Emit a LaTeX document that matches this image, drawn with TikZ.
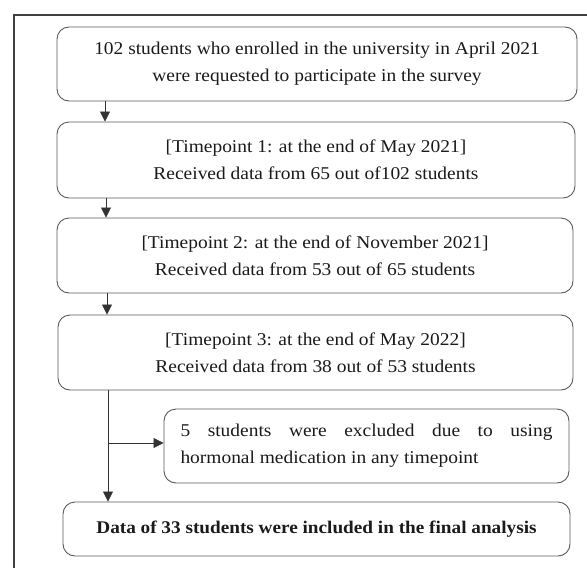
\documentclass[tikz,border=0pt]{standalone}
\usepackage{fontspec}
\setmainfont[FakeStretch=1.08]{Liberation Serif}
\usetikzlibrary{arrows.meta}
\definecolor{boxline}{HTML}{5A5A5A}
\definecolor{txt}{HTML}{1A1A1A}
\begin{document}
\begin{tikzpicture}[x=1pt,y=-1pt,
  flowbox/.style={draw=boxline,line width=0.9pt,rounded corners=12pt,
    text=txt,align=center,inner sep=0pt,
    font=\fontsize{18}{27}\selectfont},
  arr/.style={line width=0.8pt,draw=black!80,-{Triangle[length=10pt,width=10pt]}},
  plain/.style={line width=0.8pt,draw=black!80}]
\useasboundingbox (0,0) rectangle (587,568);
\draw[line width=1.5pt,draw=black!75] (14,568) -- (14,15) -- (587,15);

\node[flowbox,minimum width=520pt,minimum height=74pt] (b1) at (317,64)
  {102 students who enrolled in the university in April 2021\\were requested to participate in the survey};
\node[flowbox,minimum width=518pt,minimum height=76pt] (b2) at (316,160)
  {[Timepoint 1: at the end of May 2021]\\Received data from 65 out of102 students};
\node[flowbox,minimum width=516pt,minimum height=75pt] (b3) at (315,255.5)
  {[Timepoint 2: at the end of November 2021]\\Received data from 53 out of 65 students};
\node[flowbox,minimum width=515pt,minimum height=75pt] (b4) at (315.5,352.5)
  {[Timepoint 3: at the end of May 2022]\\Received data from 38 out of 53 students};
\node[flowbox,minimum width=405pt,minimum height=74pt,text width=372pt,align=justify,inner xsep=16.5pt] (b5) at (366.5,446)
  {5 students were excluded due to using\linebreak hormonal medication in any timepoint};
\node[flowbox,minimum width=507pt,minimum height=54pt,font=\fontsize{17.8}{27}\selectfont\bfseries] (b6) at (316.5,529)
  {Data of 33 students were included in the final analysis};

\coordinate (a1) at (105,0);
\coordinate (a2) at (106,0);
\coordinate (a3) at (107,0);
\coordinate (a4) at (108,0);
\coordinate (br) at (108,443);

\draw[arr] (b1.south -| a1) -- (b2.north -| a1);
\draw[arr] (b2.south -| a2) -- (b3.north -| a2);
\draw[arr] (b3.south -| a3) -- (b4.north -| a3);
\draw[arr] (b4.south -| a4) -- (b6.north -| a4);
\draw[arr] (br) -- (br -| b5.west);
\end{tikzpicture}
\end{document}
